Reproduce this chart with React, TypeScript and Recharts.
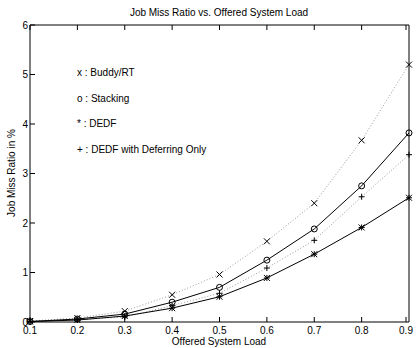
import React from "react";
import { LineChart, Line, XAxis, YAxis } from "recharts";

const loads = [0.1, 0.2, 0.3, 0.4, 0.5, 0.6, 0.7, 0.8, 0.9];
const buddyRT = [0.02, 0.08, 0.22, 0.55, 0.96, 1.63, 2.4, 3.67, 5.2];
const stacking = [0.01, 0.06, 0.16, 0.4, 0.7, 1.25, 1.88, 2.75, 3.82];
const dedf = [0.01, 0.04, 0.12, 0.28, 0.51, 0.89, 1.37, 1.91, 2.51];
const dedfDeferring = [0.01, 0.05, 0.1, 0.33, 0.58, 1.09, 1.65, 2.53, 3.38];

const xTicks = [0.1, 0.2, 0.3, 0.4, 0.5, 0.6, 0.7, 0.8, 0.9];
const yTicks = [0, 1, 2, 3, 4, 5, 6];
const legendLabels = [
  "x : Buddy/RT",
  "o : Stacking",
  "* : DEDF",
  "+ : DEDF with Deferring Only",
];

const data = loads.map((load, i) => ({
  load,
  buddy: buddyRT[i],
  stacking: stacking[i],
  dedf: dedf[i],
  deferring: dedfDeferring[i],
}));

const FONT = "'Liberation Sans', Arial, sans-serif";
const TICK = 5;

const marker = (kind: string) => (props: any) => {
  const { cx, cy, index } = props;
  const r = 3;
  const s = { stroke: "#000", strokeWidth: 1, fill: "none" };
  if (kind === "o")
    return <circle key={index} cx={cx} cy={cy} r={r} {...s} />;
  const cross = (
    <>
      <line x1={cx - r} y1={cy - r} x2={cx + r} y2={cy + r} {...s} />
      <line x1={cx - r} y1={cy + r} x2={cx + r} y2={cy - r} {...s} />
    </>
  );
  const plus = (
    <>
      <line x1={cx - r} y1={cy} x2={cx + r} y2={cy} {...s} />
      <line x1={cx} y1={cy - r} x2={cx} y2={cy + r} {...s} />
    </>
  );
  return (
    <g key={index}>
      {(kind === "x" || kind === "*") && cross}
      {(kind === "+" || kind === "*") && plus}
    </g>
  );
};

const BottomTick = (props: any) => {
  const { x, y, payload } = props;
  return (
    <g>
      <line x1={x} y1={y} x2={x} y2={y - TICK} stroke="#000" />
      <text x={x} y={y + 12} textAnchor="middle" fontSize={10} fontFamily={FONT} fill="#000">
        {Number(payload.value).toFixed(1)}
      </text>
    </g>
  );
};

const TopTick = (props: any) => {
  const { x, y } = props;
  return <line x1={x} y1={y} x2={x} y2={y + TICK} stroke="#000" />;
};

const LeftTick = (props: any) => {
  const { x, y, payload } = props;
  return (
    <g>
      <line x1={x} y1={y} x2={x + TICK} y2={y} stroke="#000" />
      <text x={x - 2} y={y + 3.5} textAnchor="end" fontSize={10} fontFamily={FONT} fill="#000">
        {payload.value}
      </text>
    </g>
  );
};

const RightTick = (props: any) => {
  const { x, y } = props;
  return <line x1={x} y1={y} x2={x - TICK} y2={y} stroke="#000" />;
};

export default function App() {
  return (
    <div style={{ position: "absolute", left: 0, top: 0, width: 416, height: 348, background: "#fff", fontFamily: FONT }}>
      <LineChart
        width={416}
        height={348}
        data={data}
        margin={{ top: 0, right: 0, bottom: 0, left: 0 }}
      >
        <XAxis
          xAxisId="b"
          dataKey="load"
          type="number"
          domain={[0.1, 0.9]}
          ticks={xTicks}
          height={26}
          tickSize={0}
          tickMargin={0}
          tick={<BottomTick />}
          axisLine={{ stroke: "#000" }}
          tickLine={false}
        />
        <XAxis
          xAxisId="t"
          orientation="top"
          dataKey="load"
          type="number"
          domain={[0.1, 0.9]}
          ticks={xTicks}
          height={25}
          tickSize={0}
          tickMargin={0}
          tick={<TopTick />}
          axisLine={{ stroke: "#000" }}
          tickLine={false}
        />
        <YAxis
          yAxisId="l"
          domain={[0, 6]}
          ticks={yTicks}
          width={30}
          tickSize={0}
          tickMargin={0}
          tick={<LeftTick />}
          axisLine={{ stroke: "#000" }}
          tickLine={false}
        />
        <YAxis
          yAxisId="r"
          orientation="right"
          domain={[0, 6]}
          ticks={yTicks}
          width={7}
          tickSize={0}
          tickMargin={0}
          tick={<RightTick />}
          axisLine={{ stroke: "#000" }}
          tickLine={false}
        />
        <Line
          xAxisId="b"
          yAxisId="l"
          dataKey="buddy"
          stroke="#999"
          strokeDasharray="1 2"
          strokeWidth={1}
          dot={marker("x")}
          isAnimationActive={false}
        />
        <Line
          xAxisId="b"
          yAxisId="l"
          dataKey="deferring"
          stroke="#999"
          strokeDasharray="1 2"
          strokeWidth={1}
          dot={marker("+")}
          isAnimationActive={false}
        />
        <Line
          xAxisId="b"
          yAxisId="l"
          dataKey="stacking"
          stroke="#000"
          strokeWidth={1}
          dot={marker("o")}
          isAnimationActive={false}
        />
        <Line
          xAxisId="b"
          yAxisId="l"
          dataKey="dedf"
          stroke="#000"
          strokeWidth={1}
          dot={marker("*")}
          isAnimationActive={false}
        />
      </LineChart>
      <div style={{ position: "absolute", left: 0, width: 416, top: 7, textAlign: "center", fontSize: 10, lineHeight: "12px", paddingLeft: 22, boxSizing: "border-box" }}>
        Job Miss Ratio vs. Offered System Load
      </div>
      <div style={{ position: "absolute", left: 0, width: 416, top: 336, textAlign: "center", fontSize: 10, lineHeight: "12px", paddingLeft: 22, boxSizing: "border-box" }}>
        Offered System Load
      </div>
      <div
        style={{
          position: "absolute",
          left: 12,
          top: 173,
          fontSize: 10,
          lineHeight: "12px",
          whiteSpace: "nowrap",
          transform: "translate(-50%, -50%) rotate(-90deg)",
        }}
      >
        Job Miss Ratio in %
      </div>
      {legendLabels.map((label, i) => (
        <div
          key={label}
          style={{ position: "absolute", left: 77, top: 67 + i * 25.5, fontSize: 10, lineHeight: "12px", whiteSpace: "nowrap" }}
        >
          {label}
        </div>
      ))}
    </div>
  );
}
